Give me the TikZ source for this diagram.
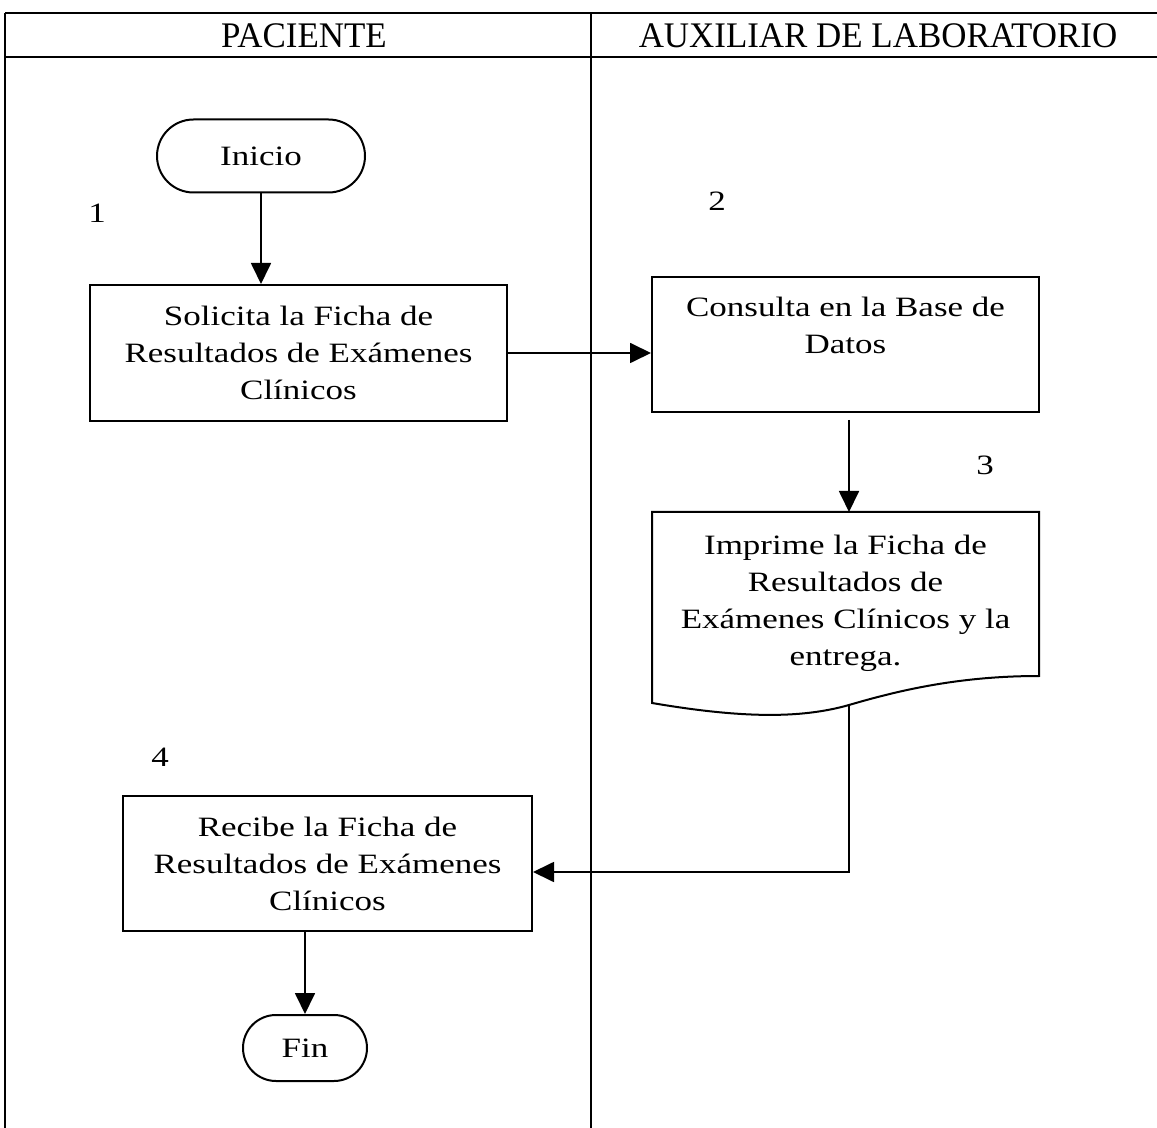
\documentclass[tikz,border=0pt]{standalone}
\usepackage{fontspec}
\setmainfont{Liberation Serif}
\newfontfamily\bodyfont{Liberation Serif}[FakeStretch=1.25]
\newfontfamily\headfont{Liberation Serif}[FakeStretch=0.97]
\usetikzlibrary{arrows.meta,shapes.misc}
\tikzset{
  lane/.style={line width=1pt},
  bodytxt/.style={font=\bodyfont\fontsize{14}{18.5}\selectfont},
  procbox/.style={draw, line width=1pt, rectangle, align=center, inner sep=0pt, bodytxt},
  termbox/.style={draw, line width=1pt, rounded rectangle, inner sep=0pt, bodytxt},
  flow/.style={line width=0.9pt, -{Triangle[length=10.5pt,width=10pt]}},
  stepnum/.style={font=\bodyfont\fontsize{14}{16}\selectfont},
  headtxt/.style={font=\headfont\fontsize{18}{20}\selectfont}
}
\begin{document}
\begin{tikzpicture}[x=0.5pt,y=-0.5pt]
\useasboundingbox (0,0) rectangle (1157,1128);
% swimlane frame
\draw[lane] (5,13) -- (1157,13);
\draw[lane] (5,57) -- (1157,57);
\draw[lane] (5,13) -- (5,1128);
\draw[lane] (591,13) -- (591,1128);
\node[headtxt] (hpac) at (304,36) {PACIENTE};
\node[headtxt] (haux) at (878,36) {AUXILIAR DE LABORATORIO};

% step numbers
\node[stepnum] (n1) at (97,213) {1};
\node[stepnum] (n2) at (717,201) {2};
\node[stepnum] (n3) at (985,465) {3};
\node[stepnum] (n4) at (160,757) {4};

% start and end
\node[termbox, minimum width=104pt, minimum height=36.5pt] (inicio) at (261,156) {Inicio};
\node[termbox, minimum width=62pt, minimum height=33pt] (fin) at (305,1048) {Fin};

% process boxes
\node[procbox, minimum width=208.5pt, minimum height=68pt] (solicita) at (298.5,353)
  {Solicita la Ficha de\\Resultados de Exámenes\\Clínicos};
\node[procbox, minimum width=193.5pt, minimum height=67.5pt] (consulta) at (845.5,344.5) {};
\node[align=center, bodytxt, anchor=north] (consultatxt)
  at (845.5,290) {Consulta en la Base de\\Datos};
\node[procbox, minimum width=204.5pt, minimum height=67.5pt] (recibe) at (327.5,863.5)
  {Recibe la Ficha de\\Resultados de Exámenes\\Clínicos};

% document shape with wavy lower edge
\node[align=center, inner sep=0pt, bodytxt] (imprime) at (845.5,603)
  {Imprime la Ficha de\\Resultados de\\Exámenes Clínicos y la\\entrega.};
\coordinate (doctop) at (849,512);
\draw[line width=1pt] (652,703) -- (652,512) -- (1039,512) -- (1039,676)
  .. controls (960,676) and (900,690) .. (849,705)
  .. controls (800,719) and (740,718) .. (652,703) -- cycle;
\coordinate (docout) at (849,705);
\coordinate (bend) at (849,872);
\coordinate (cout) at (849,420);

% connectors
\draw[flow] (inicio.south) -- (inicio.south |- solicita.north);
\draw[flow] (solicita.east) -- (solicita.east -| consulta.west);
\draw[flow] (cout) -- (doctop);
\draw[flow] (docout) -- (bend) -- (recibe.east |- bend);
\draw[flow] (recibe.south -| fin.north) -- (fin.north);
\end{tikzpicture}
\end{document}
